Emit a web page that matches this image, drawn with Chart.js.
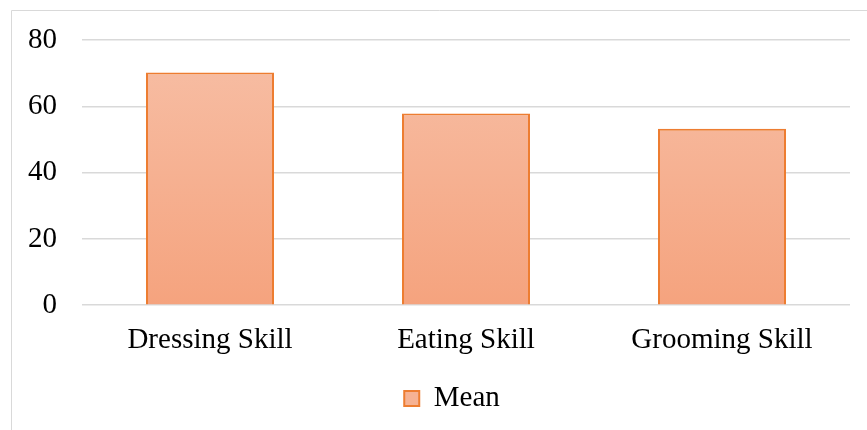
<!DOCTYPE html>
<html>
<head>
<meta charset="utf-8">
<script src="https://cdn.jsdelivr.net/npm/chart.js@4/dist/chart.umd.min.js"></script>
<style>
  html, body { margin: 0; padding: 0; background: #fff; }
  #wrap { width: 867px; height: 430px; position: relative; }
</style>
</head>
<body>
<div id="wrap"><canvas id="c"></canvas></div>
<script>
// ── data ─────────────────────────────────────────
const categories = ['Dressing Skill', 'Eating Skill', 'Grooming Skill'];
const meanValues = [70.2, 57.8, 53.2];
const yTicks = [0, 20, 40, 60, 80];

const FONT = "'Liberation Serif', 'Times New Roman', serif";
const FONT_SIZE = 29;

// gradient fill, lighter at the top, like the original
function barGradient(ctx) {
    const chart = ctx.chart;
    const area = chart.chartArea;
    if (!area) return '#F5AE8C';
    const g = chart.ctx.createLinearGradient(0, area.top, 0, area.bottom);
    g.addColorStop(0, '#F7BFA6');
    g.addColorStop(1, '#F5A37E');
    return g;
}

// thin grey frame round the whole chart
const framePlugin = {
    id: 'frame',
    beforeDraw(chart) {
        const c = chart.ctx;
        c.save();
        c.strokeStyle = '#D9D9D9';
        c.lineWidth = 1;
        c.beginPath();
        c.moveTo(11.5, chart.height + 5);
        c.lineTo(11.5, 10.5);
        c.lineTo(chart.width + 5, 10.5);
        c.stroke();
        c.restore();
    }
};

const chart = new Chart(document.getElementById('c'), {
    type: 'bar',
    data: {
        labels: categories,
        datasets: [{
            label: 'Mean',
            data: meanValues,
            backgroundColor: barGradient,
            borderColor: '#ED7D31',
            borderWidth: 2,
            barPercentage: 0.5,
            categoryPercentage: 1.0
        }]
    },
    options: {
        responsive: true,
        maintainAspectRatio: false,
        animation: false,
        layout: { padding: { left: 12, right: 17, top: 40, bottom: 7 } },
        scales: {
            y: {
                min: 0,
                max: 80,
                afterBuildTicks: axis => { axis.ticks = yTicks.map(v => ({ value: v })); },
                afterFit: axis => { axis.width = 70; axis.paddingTop = 0; axis.paddingBottom = 0; },
                ticks: { color: '#000', padding: 25, font: { family: FONT, size: FONT_SIZE } },
                grid: { color: '#D9D9D9', lineWidth: 1.5, drawTicks: false },
                border: { display: false }
            },
            x: {
                ticks: { color: '#000', padding: 18, font: { family: FONT, size: FONT_SIZE } },
                grid: { display: false, drawTicks: false },
                border: { display: false }
            }
        },
        plugins: {
            legend: {
                position: 'bottom',
                labels: {
                    color: '#000',
                    font: { family: FONT, size: FONT_SIZE },
                    boxWidth: 15,
                    boxHeight: 15,
                    padding: 8,
                    generateLabels: () => [{
                        text: 'Mean',
                        fillStyle: '#F6B293',
                        strokeStyle: '#ED7D31',
                        lineWidth: 2,
                        datasetIndex: 0
                    }]
                }
            },
            tooltip: { enabled: false }
        }
    },
    plugins: [framePlugin]
});

// legend sits a little right of centre in the original
const _legendDraw = chart.legend.draw.bind(chart.legend);
chart.legend.draw = function () {
    chart.ctx.save();
    chart.ctx.translate(21, 0);
    _legendDraw();
    chart.ctx.restore();
};
chart.draw();
</script>
</body>
</html>
